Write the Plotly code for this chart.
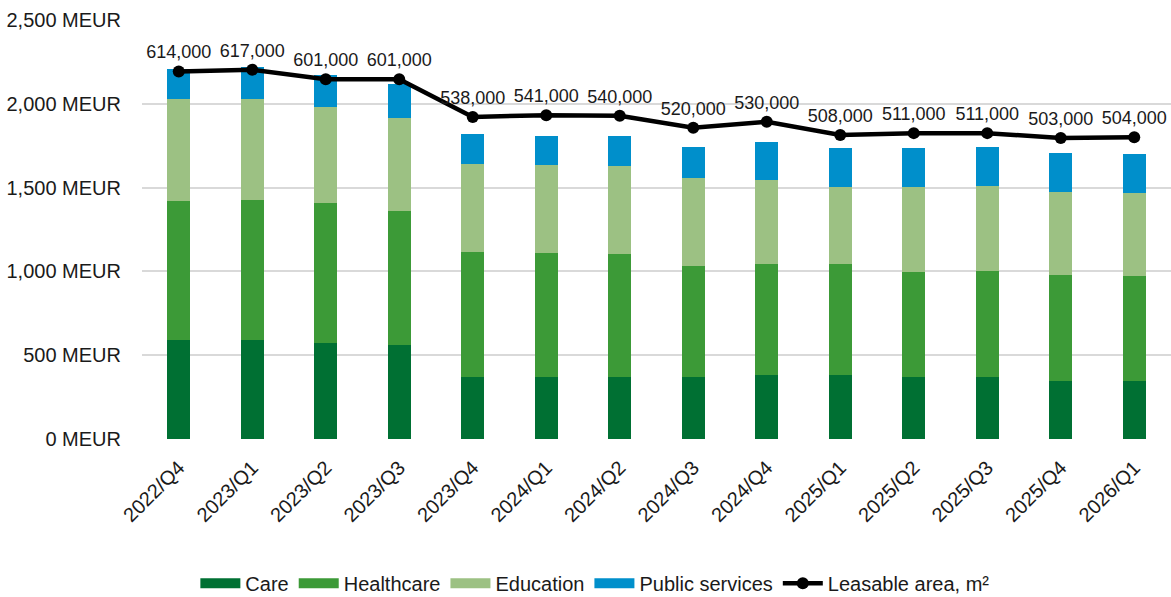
import plotly.graph_objects as go

quarters = ["2022/Q4", "2023/Q1", "2023/Q2", "2023/Q3", "2023/Q4", "2024/Q1", "2024/Q2",
            "2024/Q3", "2024/Q4", "2025/Q1", "2025/Q2", "2025/Q3", "2025/Q4", "2026/Q1"]
care = [591, 593, 575, 563, 367, 367, 367, 367, 381, 379, 367, 367, 349, 349]
healthcare = [829, 833, 831, 796, 751, 744, 738, 666, 664, 666, 631, 635, 629, 621]
education = [610, 604, 572, 558, 521, 522, 526, 527, 498, 461, 506, 506, 494, 496]
public_services = [180, 188, 192, 204, 182, 176, 178, 184, 228, 232, 232, 234, 232, 232]
leasable_area = [614000, 617000, 601000, 601000, 538000, 541000, 540000, 520000,
                 530000, 508000, 511000, 511000, 503000, 504000]
y_ticks = [0, 500, 1000, 1500, 2000, 2500]
y_tick_labels = ["0 MEUR", "500 MEUR", "1,000 MEUR", "1,500 MEUR", "2,000 MEUR", "2,500 MEUR"]

font_family = "Liberation Sans, Arial, sans-serif"
series = [("Care", care, "#007033"),
          ("Healthcare", healthcare, "#3c9a37"),
          ("Education", education, "#9cc183"),
          ("Public services", public_services, "#008fcb")]

fig = go.Figure()
for name, vals, col in series:
    fig.add_trace(go.Bar(x=quarters, y=vals, name=name, marker=dict(color=col, line=dict(width=0)),
                         hoverinfo="y+name", showlegend=False, legendgroup=name))
# legend entries drawn as wide colour strips, like the original
for name, vals, col in series:
    fig.add_trace(go.Scatter(x=[None], y=[None], name=name, mode="lines",
                             line=dict(color=col, width=10), legendgroup=name,
                             showlegend=True, hoverinfo="skip"))

fig.add_trace(go.Scatter(
    x=quarters, y=leasable_area, name="Leasable area, m²", yaxis="y2",
    mode="lines+markers+text",
    line=dict(color="black", width=4.5),
    marker=dict(color="black", size=12),
    text=[f"{v:,}" for v in leasable_area],
    textposition="top center",
    textfont=dict(size=18, color="#1a1a1a", family=font_family),
    cliponaxis=False,
))

fig.update_layout(
    barmode="stack",
    bargap=0.69,
    width=1171, height=597,
    margin=dict(l=142, r=0, t=20, b=158),
    plot_bgcolor="white", paper_bgcolor="white",
    font=dict(family=font_family, size=20, color="#1a1a1a"),
    xaxis=dict(tickangle=-45, tickfont=dict(size=20), showgrid=False, showline=False,
               ticks="", ticklen=0, range=[-0.5, 13.5], automargin=False,
               ticklabelstandoff=12),
    yaxis=dict(range=[0, 2500], tickvals=y_ticks, ticktext=y_tick_labels,
               gridcolor="#d9d9d9", gridwidth=2, zeroline=False, showline=False,
               ticks="", tickfont=dict(size=20), ticklabelstandoff=20, automargin=False),
    yaxis2=dict(range=[0, 700000], overlaying="y", side="right", visible=False, showgrid=False),
    legend=dict(orientation="h", xref="container", x=0.508, xanchor="center",
                yref="container", y=0.023, yanchor="middle",
                font=dict(size=20), traceorder="normal", itemwidth=40),
    showlegend=True,
)

fig.write_html("out.html")
